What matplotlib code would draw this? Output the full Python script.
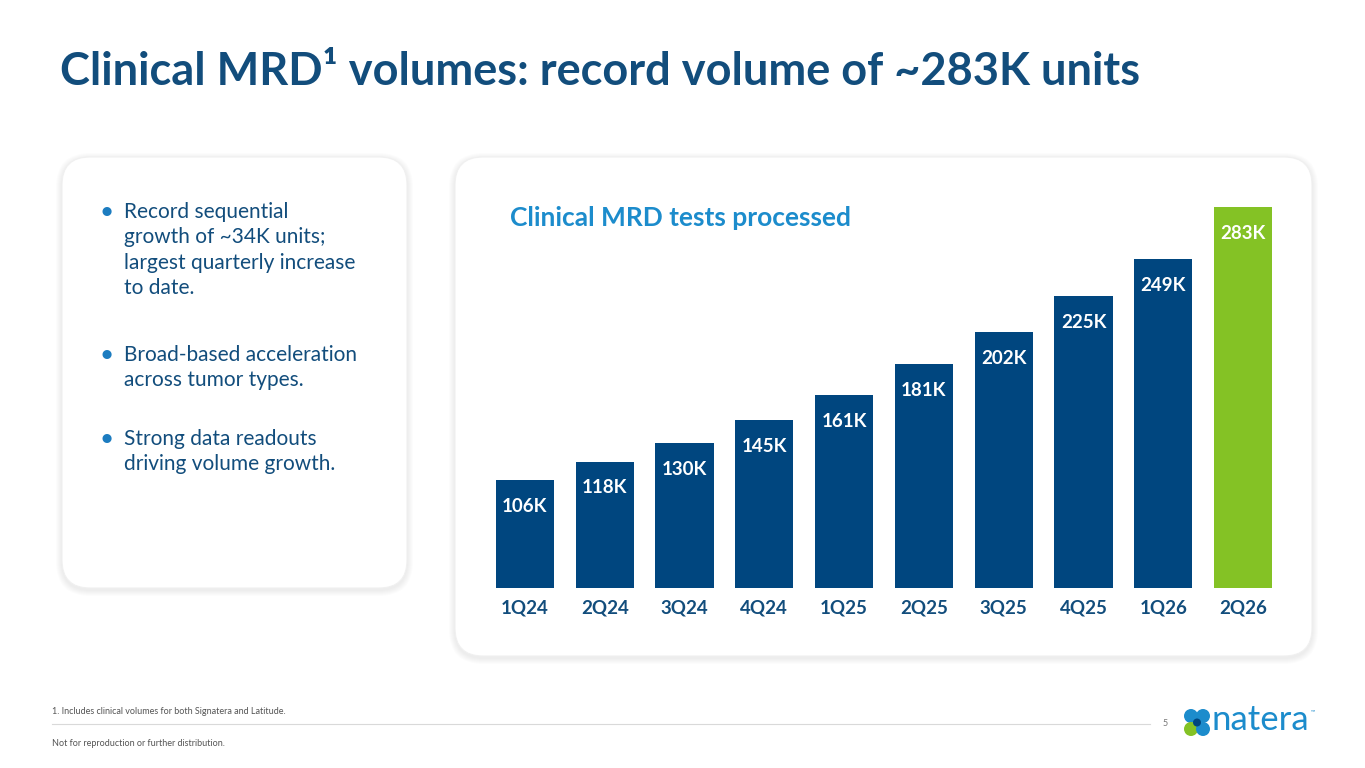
import matplotlib
matplotlib.use('Agg')
import matplotlib.pyplot as plt
from matplotlib.patches import FancyBboxPatch, Circle

plt.rcParams['font.family'] = ['Lato', 'DejaVu Sans']

quarters = ['1Q24', '2Q24', '3Q24', '4Q24', '1Q25', '2Q25', '3Q25', '4Q25', '1Q26', '2Q26']
volumes = [106, 118, 130, 145, 161, 181, 202, 225, 249, 283]
bullets = [
    'Record sequential\ngrowth of ~34K units;\nlargest quarterly increase\nto date.',
    'Broad-based acceleration\nacross tumor types.',
    'Strong data readouts\ndriving volume growth.',
]

NAVY = '#00467f'
GREEN = '#84c225'
TITLE = '#124d7c'
W, H = 1365, 768

fig = plt.figure(figsize=(W / 100, H / 100), dpi=100)
fig.patch.set_facecolor('white')

# background layer in pixel coordinates
bg = fig.add_axes([0, 0, 1, 1])
bg.set_xlim(0, W)
bg.set_ylim(H, 0)
bg.axis('off')

def panel(x0, y0, x1, y1):
    for k in range(6, 0, -1):
        bg.add_patch(FancyBboxPatch((x0 - k, y0 - k + 2), x1 - x0 + 2 * k, y1 - y0 + 2 * k,
                                    boxstyle='round,pad=0,rounding_size=%d' % (28 + k),
                                    fc='#000000', ec='none', alpha=0.012))
    bg.add_patch(FancyBboxPatch((x0, y0), x1 - x0, y1 - y0,
                                boxstyle='round,pad=0,rounding_size=28',
                                fc='white', ec='#f0f0f0', lw=0.8))

panel(62, 157, 407, 588)
panel(455, 157, 1312, 656)

bg.text(60, 72, 'Clinical MRD¹ volumes: record volume of ~283K units', fontsize=32.5,
        fontweight='bold', color=TITLE, va='center', ha='left')

ys = [202, 345, 429]
for y, b in zip(ys, bullets):
    bg.text(100, y, '•', fontsize=15, color='#1c7cc0', va='top', ha='left', fontweight='bold')
    bg.text(124, y, b, fontsize=15, color=TITLE, va='top', ha='left', linespacing=1.33)

bg.text(510, 218, 'Clinical MRD tests processed', fontsize=19, fontweight='bold',
        color='#1c8ccc', va='center', ha='left')

# footer
bg.text(52, 712, '1. Includes clinical volumes for both Signatera and Latitude.', fontsize=6.5,
        color='#555555', va='center')
bg.plot([52, 1150], [724, 724], color='#d9d9d9', lw=0.8)
bg.text(1163, 724, '5', fontsize=6.5, color='#777777', va='center')
bg.text(52, 744, 'Not for reproduction or further distribution.', fontsize=6.5,
        color='#555555', va='center')
# logo
for (cx, cy, c) in [(1191, 716, '#1c8ccc'), (1203, 716, '#1c8ccc'),
                    (1191, 729, GREEN), (1203, 729, '#1c8ccc')]:
    bg.add_patch(Circle((cx, cy), 7, fc=c, ec='none'))
bg.add_patch(Circle((1197, 722.5), 4, fc=NAVY, ec='none'))
bg.text(1212, 720, 'natera', fontsize=25, color='#1c8ccc', va='center', ha='left')
bg.text(1311, 712, '™', fontsize=4, color='#1c8ccc', va='center')

# chart (value axis does not start at zero in the reference)
ax = fig.add_axes([485 / W, (H - 588) / H, 798 / W, 381 / H])
colors = [NAVY] * (len(volumes) - 1) + [GREEN]
xs = range(len(quarters))
ax.bar(xs, volumes, width=0.73, color=colors)
ax.set_xlim(-0.5, len(quarters) - 0.5)
ax.set_ylim(36, max(volumes))
for x, v in zip(xs, volumes):
    ax.annotate('%dK' % v, (x, v), xytext=(0, -19), textcoords='offset points',
                ha='center', va='center', color='white', fontsize=13.5, fontweight='bold')
ax.set_xticks(list(xs))
ax.set_xticklabels(quarters, fontsize=13.5, fontweight='bold', color=TITLE)
ax.tick_params(axis='x', length=0, pad=8)
ax.set_yticks([])
for s in ax.spines.values():
    s.set_visible(False)
ax.patch.set_alpha(0)

fig.savefig('out.png', dpi=100)
